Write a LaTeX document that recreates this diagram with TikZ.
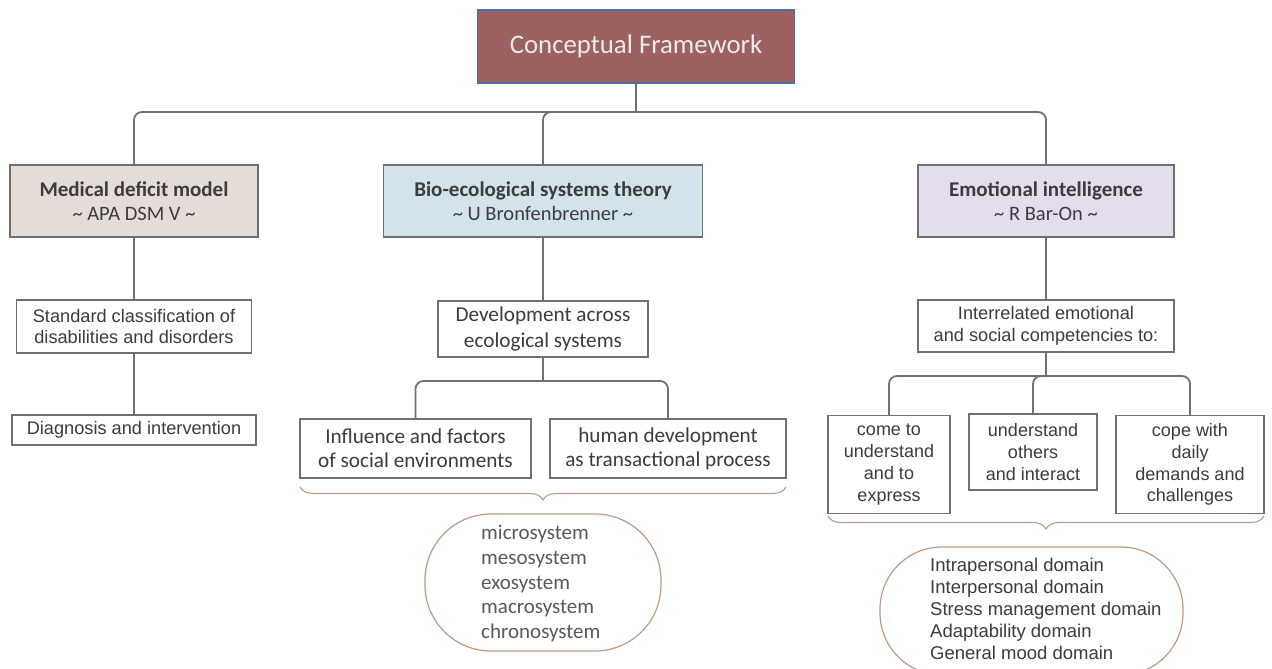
\documentclass[tikz,border=0pt]{standalone}
\usepackage{fontspec}
\setmainfont{Carlito}
\newfontfamily\tah{Liberation Sans}
\usetikzlibrary{decorations.pathreplacing}
\definecolor{topfill}{HTML}{9C6160}
\definecolor{topedge}{HTML}{4A6FA5}
\definecolor{fillA}{HTML}{E6DCD7}
\definecolor{fillB}{HTML}{D2E3EC}
\definecolor{fillC}{HTML}{E4DDED}
\definecolor{edge}{HTML}{707070}
\definecolor{txt}{HTML}{3C3C3C}
\definecolor{brown}{HTML}{BE9A86}
\definecolor{lighttxt}{HTML}{595959}
\tikzset{
  box/.style={draw=edge, line width=1.4pt, fill=white, inner sep=0pt, align=center, text=txt},
  head/.style={box, font=\fontsize{21}{25}\selectfont},
  cal/.style={box, font=\fontsize{21.2}{24}\selectfont},
  tbox/.style={box, font=\tah\fontsize{18.2}{21.5}\selectfont},
  conn/.style={draw=edge, line width=1.8pt, rounded corners=8pt},
  bracestyle/.style={draw=brown, line width=1.1pt, decorate, decoration={brace, mirror, amplitude=13pt, aspect=0.5}},
  stadium/.style={draw=brown, line width=1.2pt, fill=white, inner sep=0pt},
}
\begin{document}
\begin{tikzpicture}[x=1pt,y=-1pt]
\useasboundingbox (0,0) rectangle (1272,669);
% top
\node[draw=topedge, line width=1.2pt, fill=topfill, minimum width=317pt, minimum height=73pt, text=white!92!black, font=\fontsize{26.8}{30}\selectfont] (top) at (636,46.5) {Conceptual Framework};
% level 1
\node[head, fill=fillA, minimum width=248pt, minimum height=72pt] (b1) at (134,201) {\textbf{Medical deficit model}\\[-1pt]{\fontsize{20.5}{20}\selectfont \textasciitilde\ APA DSM V \textasciitilde}};
\node[head, fill=fillB, minimum width=319pt, minimum height=72pt] (b2) at (543,201) {\textbf{Bio-ecological systems theory}\\[-1pt]{\fontsize{20.5}{20}\selectfont \textasciitilde\ U Bronfenbrenner \textasciitilde}};
\node[head, fill=fillC, minimum width=256pt, minimum height=72pt] (b3) at (1046,201) {\textbf{Emotional intelligence}\\[-1pt]{\fontsize{20.5}{20}\selectfont \textasciitilde\ R Bar-On \textasciitilde}};
% left column
\node[tbox, minimum width=235pt, minimum height=53pt] (std) at (134,326.5) {Standard classification of\\disabilities and disorders};
\node[tbox, minimum width=244pt, minimum height=30pt] (diag) at (134,430) {Diagnosis and intervention};
% middle column
\node[cal, font=\fontsize{21.2}{26}\selectfont, minimum width=210pt, minimum height=56pt] (dev) at (543,329) {Development across\\ecological systems};
\node[cal, minimum width=231pt, minimum height=59pt] (infl) at (415.5,448.5) {Influence and factors\\of social environments};
\node[cal, minimum width=236pt, minimum height=59pt] (hum) at (668,448.5) {human development\\as transactional process};
% right column
\node[tbox, minimum width=256pt, minimum height=52pt] (inter) at (1046,326) {Interrelated emotional\\and social competencies to:};
\node[tbox, font=\tah\fontsize{18}{21.8}\selectfont, minimum width=122pt, minimum height=98pt] (come) at (889,464.5) {come to\\understand\\and to\\express};
\node[tbox, font=\tah\fontsize{18}{21.8}\selectfont, minimum width=128pt, minimum height=76pt] (und) at (1033,452) {understand\\others\\and interact};
\node[tbox, font=\tah\fontsize{18}{21.8}\selectfont, minimum width=148pt, minimum height=98pt] (cope) at (1190,464.5) {cope with\\daily\\demands and\\challenges};
% hubs
\coordinate (hub1) at (636,112);
\coordinate (hub2) at (543,381);
\coordinate (hub3) at (1046,376);
% connectors
\draw[conn] (top.south) -- (hub1);
\draw[conn] (b1.north) |- (hub1);
\draw[conn] (b2.north) |- (hub1);
\draw[conn] (b3.north) |- (hub1);
\draw[conn] (b1.south) -- (std.north);
\draw[conn] (std.south) -- (diag.north);
\draw[conn] (b2.south) -- (dev.north);
\draw[conn] (dev.south) -- (hub2);
\draw[conn] (infl.north) |- (hub2);
\draw[conn] (hum.north) |- (hub2);
\draw[conn] (b3.south) -- (inter.north);
\draw[conn] (inter.south) -- (hub3);
\draw[conn] (come.north) |- (hub3);
\draw[conn] (und.north) |- (hub3);
\draw[conn] (cope.north) |- (hub3);
% braces
\coordinate (brA1) at (300,487);
\coordinate (brA2) at (786,487);
\coordinate (brB1) at (828,516);
\coordinate (brB2) at (1264,516);
\draw[bracestyle] (brA1) -- (brA2);
\draw[bracestyle] (brB1) -- (brB2);
% stadiums
\node[stadium, minimum width=236pt, minimum height=137pt, rounded corners=66pt] (st1) at (543,582.5) {};
\node[anchor=north west, inner sep=0pt, align=left, text=lighttxt, font=\fontsize{21}{24.7}\selectfont] (st1t) at (481,525) {microsystem\\mesosystem\\exosystem\\macrosystem\\chronosystem};
\node[stadium, minimum width=303pt, minimum height=128pt, rounded corners=62pt] (st2) at (1031.5,611) {};
\node[anchor=north west, inner sep=0pt, align=left, text=txt, font=\tah\fontsize{18.5}{22}\selectfont] (st2t) at (930,558) {Intrapersonal domain\\Interpersonal domain\\Stress management domain\\Adaptability domain\\General mood domain};
\end{tikzpicture}
\end{document}
